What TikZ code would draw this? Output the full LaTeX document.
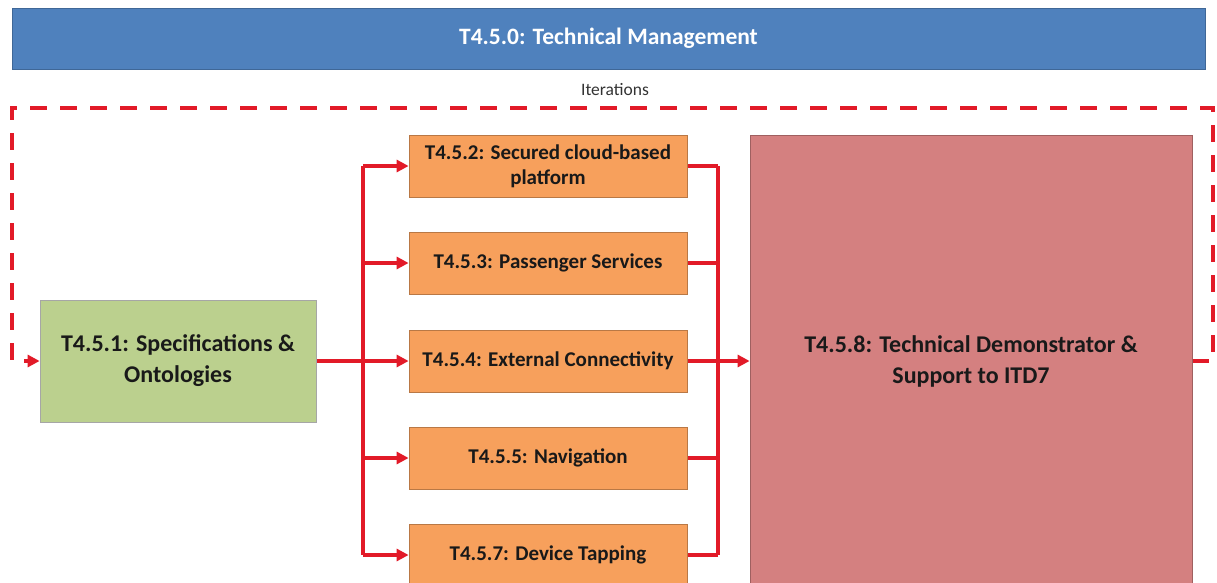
\documentclass[tikz,border=0pt]{standalone}
\usepackage{fontspec}
\setmainfont{Carlito}
\usepackage{xcolor}
\usepackage{tikz}
\usetikzlibrary{arrows.meta}
\usetikzlibrary{positioning,calc,backgrounds}
\pgfdeclarelayer{edgelayer}
\pgfdeclarelayer{nodelayer}
\pgfsetlayers{background,edgelayer,nodelayer,main}
\definecolor{mgmtblue}{RGB}{79,129,189}
\definecolor{specgreen}{RGB}{187,208,142}
\definecolor{taskorange}{RGB}{247,160,92}
\definecolor{demored}{RGB}{212,128,128}
\definecolor{flowred}{RGB}{226,26,40}
\tikzstyle{none}=[inner sep=0mm]
\tikzstyle{box}=[shape=rectangle,align=center,inner sep=2pt,font=\fontsize{21}{25}\selectfont\bfseries,text=black!90]
\tikzstyle{mgmt}=[box,fill=mgmtblue,draw=mgmtblue!80!black,line width=0.8pt,text=white,minimum width=1193pt,minimum height=61pt,font=\fontsize{23.5}{27}\selectfont\bfseries]
\tikzstyle{spec}=[box,fill=specgreen,draw=black!35,line width=0.8pt,minimum width=276pt,minimum height=122pt,font=\fontsize{24}{31}\selectfont\bfseries]
\tikzstyle{task}=[box,fill=taskorange,draw=taskorange!75!black,line width=0.8pt,minimum width=278pt,minimum height=62pt]
\tikzstyle{demo}=[box,fill=demored,draw=demored!75!black,line width=0.8pt,minimum width=442pt,minimum height=452pt,font=\fontsize{24}{31}\selectfont\bfseries]
\tikzstyle{flow}=[draw=flowred,line width=3.2pt]
\tikzstyle{diredge}=[flow,-{Triangle[length=12pt,width=12pt]}]
\tikzstyle{iterloop}=[diredge,dash pattern=on 17pt off 13pt]

\begin{document}
\begin{tikzpicture}[x=1pt,y=-1pt]
	\useasboundingbox (0,0) rectangle (1217,583);
	\begin{pgfonlayer}{nodelayer}
		\node [style=mgmt] (mgmt) at (608.5, 38.5) {T4.5.0: Technical Management};
		\node [style=none, font=\fontsize{17.5}{20}\selectfont, text=black!80] (iter) at (615, 90) {Iterations};
		\node [style=spec] (spec) at (178, 361) {T4.5.1: Specifications \&\\Ontologies};
		\node [style=task] (cloud) at (548, 166) {T4.5.2: Secured cloud-based\\platform};
		\node [style=task] (pass) at (548, 263) {T4.5.3: Passenger Services};
		\node [style=task] (conn) at (548, 361) {T4.5.4: External Connectivity};
		\node [style=task] (nav) at (548, 458) {T4.5.5: Navigation};
		\node [style=task] (tap) at (548, 555) {T4.5.7: Device Tapping};
		\node [style=demo] (demo) at (971, 361) {T4.5.8: Technical Demonstrator \&\\Support to ITD7};
		\coordinate (lt) at (363, 166);
		\coordinate (lb) at (363, 555);
		\coordinate (rt) at (718, 166);
		\coordinate (rb) at (718, 555);
		\coordinate (itr) at (1213, 108);
		\coordinate (itl) at (12, 108);
	\end{pgfonlayer}
	\begin{pgfonlayer}{edgelayer}
		% fan out
		\draw[style=flow] (lt) -- (lb);
		\draw[style=diredge] (spec.east) -- (conn.west);
		\foreach \t in {cloud,pass,nav,tap}
			\draw[style=diredge] (\t.west -| lt) -- (\t.west);
		% fan in
		\draw[style=flow] (rt) -- (rb);
		\foreach \t in {cloud,pass,conn,nav,tap}
			\draw[style=flow] (\t.east) -- (\t.east -| rt);
		\draw[style=diredge] (conn.east -| rt) -- (demo.west);
		% iterations
		\draw[style=iterloop] (demo.east) -| (itr) -- (itl) |- (spec.west);
	\end{pgfonlayer}
\end{tikzpicture}
\end{document}
